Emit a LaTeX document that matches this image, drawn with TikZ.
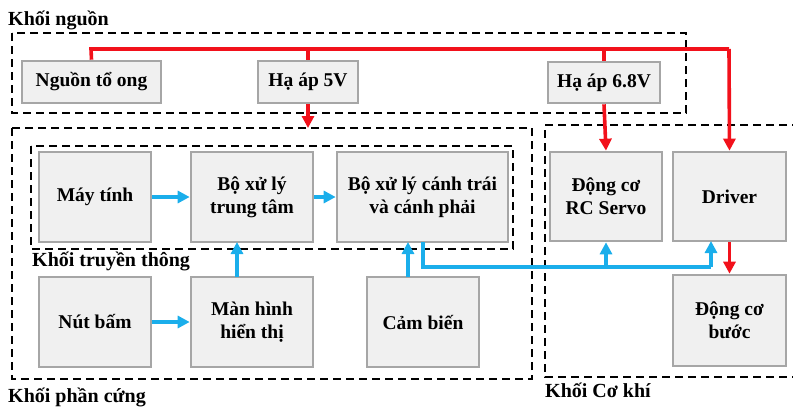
\documentclass[tikz,border=0pt]{standalone}
\usepackage{fontspec}
\setmainfont{Liberation Serif}
\usetikzlibrary{arrows.meta}
\definecolor{boxfill}{HTML}{F0F0F0}
\definecolor{boxline}{HTML}{A6A6A6}
\definecolor{pwr}{HTML}{F2111B}
\definecolor{sig}{HTML}{1AAEEB}
\tikzset{
  blk/.style={draw=boxline, line width=2.6pt, fill=boxfill, inner sep=0pt,
    align=center, font=\fontsize{19.5}{23}\selectfont\bfseries},
  grp/.style={draw=black, line width=2.7pt, dash pattern=on 8pt off 5pt},
  grplabel/.style={anchor=base west, inner sep=0pt, font=\fontsize{20}{23}\selectfont\bfseries},
  pline/.style={draw=pwr, line width=3.6pt},
  parrow/.style={pline, -{Triangle[length=12pt,width=12pt]}},
  sline/.style={draw=sig, line width=3.4pt},
  sarrow/.style={sline, -{Triangle[length=12pt,width=12pt]}},
}
\begin{document}
\begin{tikzpicture}[x=1pt,y=-1pt]
\useasboundingbox (0,0) rectangle (793,410);

% group frames
\draw[grp] (12,33) rectangle (686,113);
\draw[grp] (12,128) rectangle (532,379);
\draw[grp] (31,146) rectangle (513,249);
\draw[grp] (800,125) -- (545,125) -- (545,377) -- (800,377);

% group titles
\node[grplabel] (tpower) at (8,25) {Khối nguồn};
\node[grplabel] (tcomm) at (32,266) {Khối truyền thông};
\node[grplabel] (thw) at (8,402) {Khối phần cứng};
\node[grplabel] (tmech) at (545,397) {Khối Cơ khí};

% power block
\node[blk, minimum width=139pt, minimum height=42pt] (src) at (91.5,82) {Nguồn tổ ong};
\node[blk, minimum width=100pt, minimum height=42pt] (h5) at (308,82) {Hạ áp 5V};
\node[blk, minimum width=112pt, minimum height=41pt] (h68) at (604,82.5) {Hạ áp 6.8V};

% communication block
\node[blk, minimum width=112pt, minimum height=90pt] (pc) at (95,197) {Máy tính};
\node[blk, minimum width=122pt, minimum height=90pt] (cpu) at (252,197) {Bộ xử lý\\trung tâm};
\node[blk, minimum width=171pt, minimum height=90pt] (wing) at (422.5,197) {Bộ xử lý cánh trái\\và cánh phải};

% hardware block
\node[blk, minimum width=112pt, minimum height=90pt] (btn) at (95,322) {Nút bấm};
\node[blk, minimum width=122pt, minimum height=90pt] (lcd) at (252,322) {Màn hình\\hiển thị};
\node[blk, minimum width=112pt, minimum height=90pt] (sensor) at (423,322) {Cảm biến};

% mechanical block
\node[blk, minimum width=112pt, minimum height=89pt] (servo) at (606,196.5) {Động cơ\\RC Servo};
\node[blk, minimum width=113pt, minimum height=89pt] (driver) at (729.5,196.5) {Driver};
\node[blk, minimum width=113pt, minimum height=91pt] (stepper) at (729.5,320.5) {Động cơ\\bước};

% power bus
\coordinate (busL) at (91,49);
\coordinate (busR) at (729,49);
\coordinate (hwtop) at (308,128);
\draw[pline] (src.north) -- (busL) -- (busR);
\draw[parrow] (busR) -- (driver.north);
\draw[pline] (h5.north |- busL) -- (h5.north);
\draw[pline] (h68.north |- busL) -- (h68.north);
\draw[parrow] (h5.south) -- (hwtop);
\draw[parrow] (h68.south) -- (servo.north);
\draw[parrow] (driver.south) -- (stepper.north);

% signal paths
\draw[sarrow] (pc.east) -- (cpu.west);
\draw[sarrow] (cpu.east) -- (wing.west);
\draw[sarrow] (btn.east) -- (lcd.west);
\draw[sarrow] (237,277) -- (237,242);
\draw[sarrow] (408,277) -- (408,242);
\coordinate (wout) at (423,242);
\coordinate (bend) at (423,267);
\coordinate (tap) at (606,267);
\coordinate (dend) at (711,267);
\draw[sline] (wout) -- (bend) -- (dend);
\draw[sarrow] (dend) -- (711,241);
\draw[sarrow] (tap) -- (servo.south);
\end{tikzpicture}
\end{document}
